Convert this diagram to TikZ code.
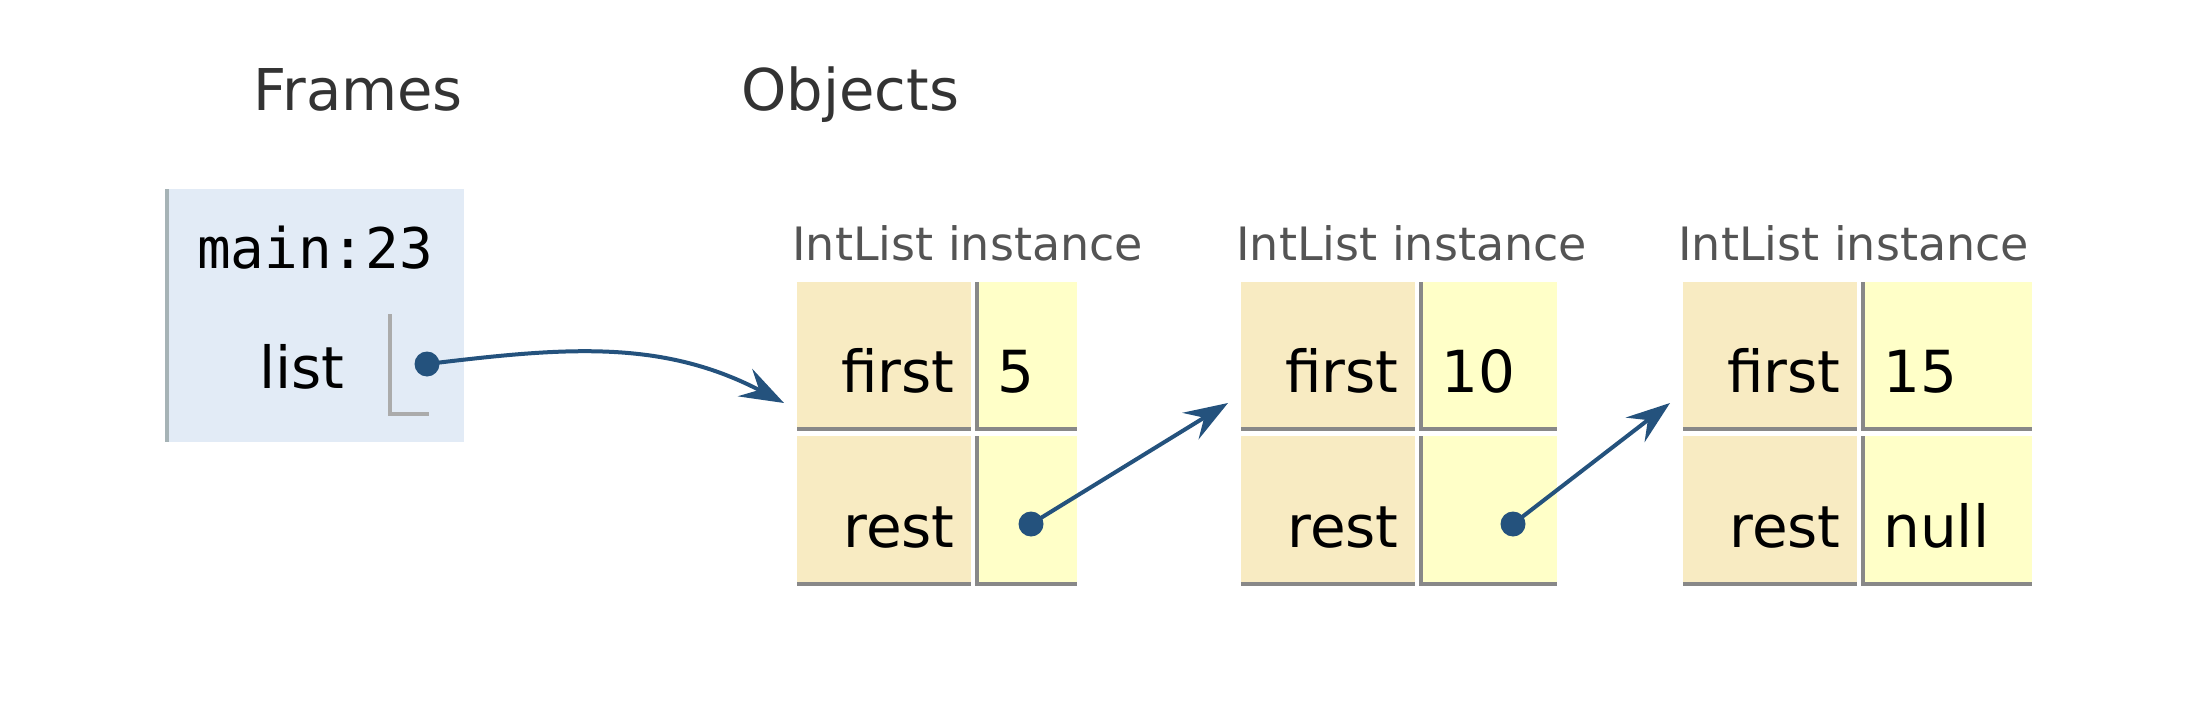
\documentclass[tikz,border=0pt]{standalone}
\usepackage{fontspec}
\setmainfont{DejaVu Sans}
\newfontfamily\monofont{DejaVu Sans Mono}
\usetikzlibrary{arrows.meta}
\definecolor{framebg}{HTML}{E2EBF6}
\definecolor{framebar}{HTML}{A6B3B6}
\definecolor{keybg}{HTML}{F8EBC2}
\definecolor{valbg}{HTML}{FFFFC8}
\definecolor{cellline}{HTML}{888888}
\definecolor{refblue}{HTML}{24527D}

\begin{document}
\begin{tikzpicture}[x=0.5pt,y=-0.5pt,
  lbl/.style={font=\fontsize{29}{34}\selectfont, inner sep=0pt},
  head/.style={font=\fontsize{28.8}{34}\selectfont, text=black!80, inner sep=0pt, anchor=base west},
  type/.style={font=\fontsize{23}{28}\selectfont, text=black!67, inner sep=0pt, anchor=base west},
  cell/.style={cellline, line width=2pt},
  ptr/.style={circle, fill=refblue, inner sep=0pt, minimum size=12.5pt},
  ref/.style={refblue, line width=2pt, -{Stealth[length=22pt,width=15.5pt,inset=8pt]}}]
\useasboundingbox (0,0) rectangle (2200,722);
\path
(253,111) node[head] (frames) {Frames}
(741,111) node[head] (objects) {Objects};
% stack frame
\fill[framebg] (165,189) rectangle (464,442);
\fill[framebar] (165,189) rectangle (169,442);
\node[lbl, font=\monofont\fontsize{28}{34}\selectfont, anchor=base] (main) at (315,268) {main:23};
\node[lbl, anchor=base east] (list) at (345,388) {list};
\draw[line width=2pt, black!33] (390,314) |- (429,414);
\node[ptr] (d0) at (427,364) {};
% heap objects
\foreach \L/\R/\n/\v in {797/1077/1/5, 1241/1557/2/10, 1683/2032/3/15}{
  \fill[keybg] (\L,282) rectangle (\L+174,427);
  \fill[keybg] (\L,436) rectangle (\L+174,582);
  \fill[valbg] (\L+182,282) rectangle (\R,427);
  \fill[valbg] (\L+182,436) rectangle (\R,582);
  \draw[cell] (\L,429) -- (\L+174,429);
  \draw[cell] (\L,584) -- (\L+174,584);
  \draw[cell] (\L+180,282) |- (\R,429);
  \draw[cell] (\L+180,436) |- (\R,584);
  \node[type] (type\n) at (\L-5,260) {IntList instance};
  \node[lbl, anchor=base east] (first\n) at (\L+158,392) {first};
  \node[lbl, anchor=base east] (rest\n) at (\L+158,547) {rest};
  \node[lbl, anchor=base west] (val\n) at (\L+200,392) {\v};
  \coordinate (tip\n) at (\L-13,403);
}
\node[lbl, anchor=base west] (null3) at (1883,547) {null};
\node[ptr] (d1) at (1031,524) {};
\node[ptr] (d2) at (1513,524) {};
% references
\draw[ref] (d0.center) .. controls (560,348) and (660,338) .. (tip1);
\draw[ref] (d1.center) -- (tip2);
\draw[ref] (d2.center) -- (tip3);
\end{tikzpicture}
\end{document}
